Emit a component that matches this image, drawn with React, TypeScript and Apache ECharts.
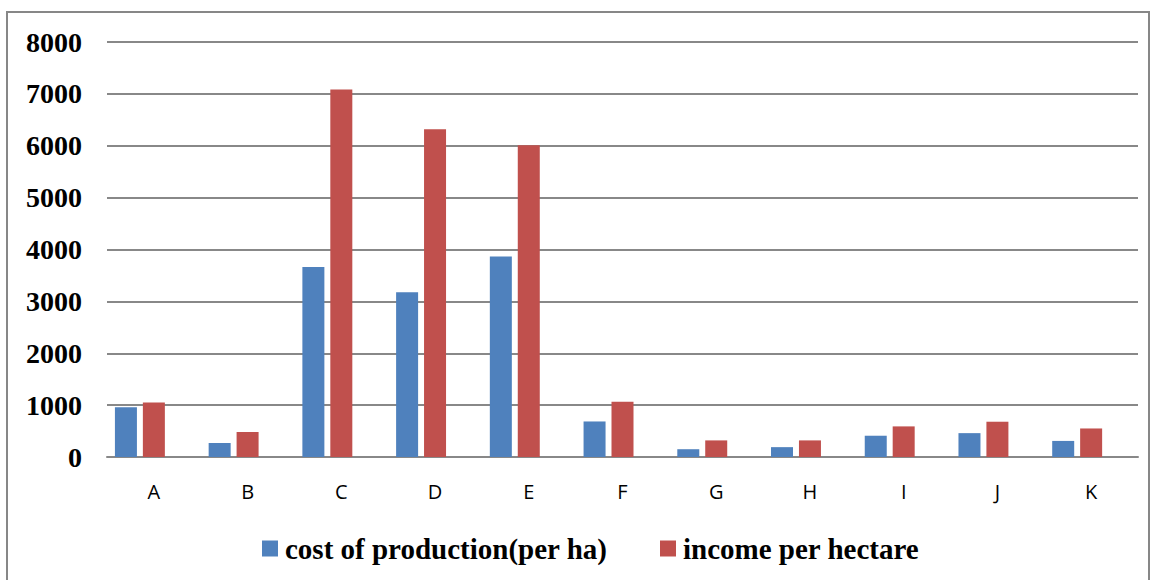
import React, { useEffect, useRef } from "react";
import * as echarts from "echarts";

const categories = ["A", "B", "C", "D", "E", "F", "G", "H", "I", "J", "K"];
const costOfProduction = [960, 270, 3665, 3175, 3865, 685, 150, 190, 410, 460, 310];
const incomePerHectare = [1050, 480, 7085, 6320, 6010, 1065, 320, 320, 590, 680, 550];
const seriesNames = ["cost of production(per ha)", "income per hectare"];

export default function App() {
  const ref = useRef<HTMLDivElement>(null);
  useEffect(() => {
    document.body.style.margin = "0";
    const chart = echarts.init(ref.current!, null, { renderer: "svg" });
    const legendBase = {
      top: 534,
      padding: 0,
      itemWidth: 16,
      itemHeight: 16,
      icon: "rect",
      textStyle: {
        fontFamily: "Liberation Serif",
        fontWeight: "bold",
        fontSize: 29,
        color: "#000",
        padding: [0, 0, 0, 2],
      },
    };
    chart.setOption({
      animation: false,
      backgroundColor: "#ffffff",
      graphic: [
        {
          type: "rect",
          shape: { x: 7, y: 12, width: 1142, height: 600 },
          style: { fill: "none", stroke: "#878787", lineWidth: 2 },
          silent: true,
        },
      ],
      grid: { left: 107, right: 18, top: 42, bottom: 123 },
      legend: [
        { ...legendBase, left: 262, data: [seriesNames[0]] },
        { ...legendBase, left: 660, data: [seriesNames[1]] },
      ],
      xAxis: {
        type: "category",
        data: categories,
        axisLine: { lineStyle: { color: "#888888", width: 2 } },
        axisTick: { show: false },
        axisLabel: {
          margin: 24,
          fontFamily: "Open Sans",
          fontSize: 20,
          color: "#000",
        },
      },
      yAxis: {
        type: "value",
        min: 0,
        max: 8000,
        interval: 1000,
        axisLine: { show: false },
        axisTick: { show: false },
        splitLine: { lineStyle: { color: "#888888", width: 2 } },
        axisLabel: {
          margin: 25,
          fontFamily: "Liberation Serif",
          fontWeight: "bold",
          fontSize: 28,
          color: "#000",
          formatter: (v: number) => String(v),
        },
      },
      series: [
        {
          name: seriesNames[0],
          type: "bar",
          data: costOfProduction,
          barWidth: 22,
          barGap: "27%",
          itemStyle: { color: "#4f81bd" },
        },
        {
          name: seriesNames[1],
          type: "bar",
          data: incomePerHectare,
          barWidth: 22,
          itemStyle: { color: "#c0504d" },
        },
        {
          name: "empty slot",
          type: "bar",
          data: [],
          barWidth: 22,
          silent: true,
        },
      ],
    });
    return () => chart.dispose();
  }, []);
  return <div ref={ref} style={{ width: 1156, height: 580 }} />;
}
